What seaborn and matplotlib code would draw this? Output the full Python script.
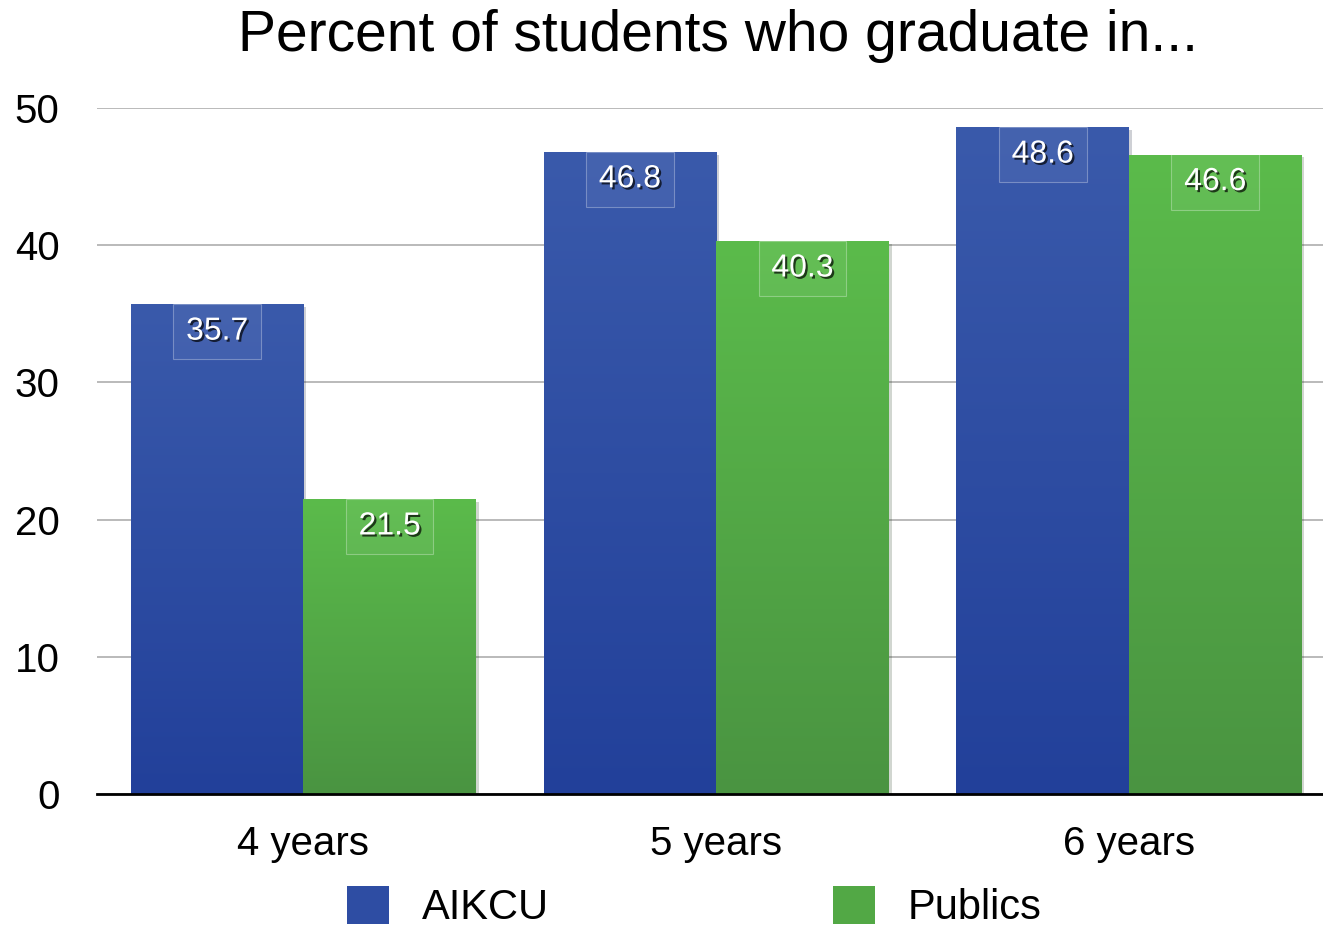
import numpy as np
import pandas as pd
import matplotlib
matplotlib.use("Agg")
import matplotlib.pyplot as plt
import matplotlib.patheffects as pe
from matplotlib.patches import Patch
from matplotlib.colors import LinearSegmentedColormap
import seaborn as sns

# data
categories = ["4 years", "5 years", "6 years"]
aikcu = [35.7, 46.8, 48.6]
publics = [21.5, 40.3, 46.6]
groups = ["AIKCU", "Publics"]

df = pd.DataFrame({
    "years": categories * 2,
    "group": [groups[0]] * 3 + [groups[1]] * 3,
    "pct": aikcu + publics,
})

sns.set_theme(style="whitegrid")
plt.rcParams["font.family"] = ["Liberation Sans", "DejaVu Sans"]
plt.rcParams["text.color"] = "black"

fig = plt.figure(figsize=(13.23, 9.26), dpi=100)
ax = fig.add_axes([0.0733, 0.1425, 0.9267, 0.7409])

blue = "#2e4da3"
green = "#52a845"
sns.barplot(data=df, x="years", y="pct", hue="group", hue_order=groups,
            palette=[blue, green], width=0.836, saturation=1,
            ax=ax, legend=False)

# gradient fill + shadow for each bar
grads = {
    blue: LinearSegmentedColormap.from_list("b", ["#22409a", "#3a5aab"]),
    green: LinearSegmentedColormap.from_list("g", ["#4a9441", "#5bbb4b"]),
}
grad = np.linspace(0, 1, 256).reshape(-1, 1)
for i, bar in enumerate(ax.patches):
    x0, y0 = bar.get_x(), bar.get_y()
    w, h = bar.get_width(), bar.get_height()
    cmap = grads[blue] if i < 3 else grads[green]
    bar.set_edgecolor("none")
    bar.set_path_effects([pe.SimplePatchShadow(offset=(2, -2), alpha=0.2),
                          pe.Normal()])
    im = ax.imshow(grad, extent=[x0, x0 + w, y0, y0 + h], origin="lower",
                   cmap=cmap, aspect="auto", zorder=bar.get_zorder() + 0.1)
    im.set_clip_path(bar)

    # value label in a faint box
    ax.text(x0 + w / 2, y0 + h - 2.0, f"{h:.1f}", ha="center", va="center",
            fontsize=23, color="white", zorder=5,
            bbox=dict(boxstyle="square,pad=0.4", fc=(1, 1, 1, 0.06),
                      ec=(1, 1, 1, 0.3), lw=0.8),
            path_effects=[pe.withSimplePatchShadow(offset=(1.5, -1.5),
                                                   shadow_rgbFace="black",
                                                   alpha=0.7)])

ax.set_xlim(-0.5, 2.47)
ax.set_ylim(0, 50)
ax.set_yticks([0, 10, 20, 30, 40, 50])
ax.set_xlabel("")
ax.set_ylabel("")
ax.grid(axis="x", visible=False)
ax.grid(axis="y", color="#b4b4b4", linewidth=1.3)
ax.set_axisbelow(True)
for s in ["top", "right", "left"]:
    ax.spines[s].set_visible(False)
ax.spines["bottom"].set_color("black")
ax.spines["bottom"].set_linewidth(2)
ax.spines["bottom"].set_zorder(6)
ax.tick_params(axis="y", labelsize=29, pad=27, length=0, colors="black")
ax.tick_params(axis="x", labelsize=29, pad=22, length=0, colors="black")

fig.suptitle("Percent of students who graduate in...", fontsize=41,
             x=0.543, y=0.99, va="top", color="black")

handles = [Patch(facecolor="#2e4da3", edgecolor="none"),
           Patch(facecolor="#52a845", edgecolor="none")]
fig.legend(handles, groups, loc="lower center", bbox_to_anchor=(0.525, -0.043),
           ncol=2, frameon=False, fontsize=30, handlelength=1.0,
           handleheight=1.0, handletextpad=0.8, columnspacing=6.8,
           labelcolor="black")

fig.savefig("out.png", dpi=100)
